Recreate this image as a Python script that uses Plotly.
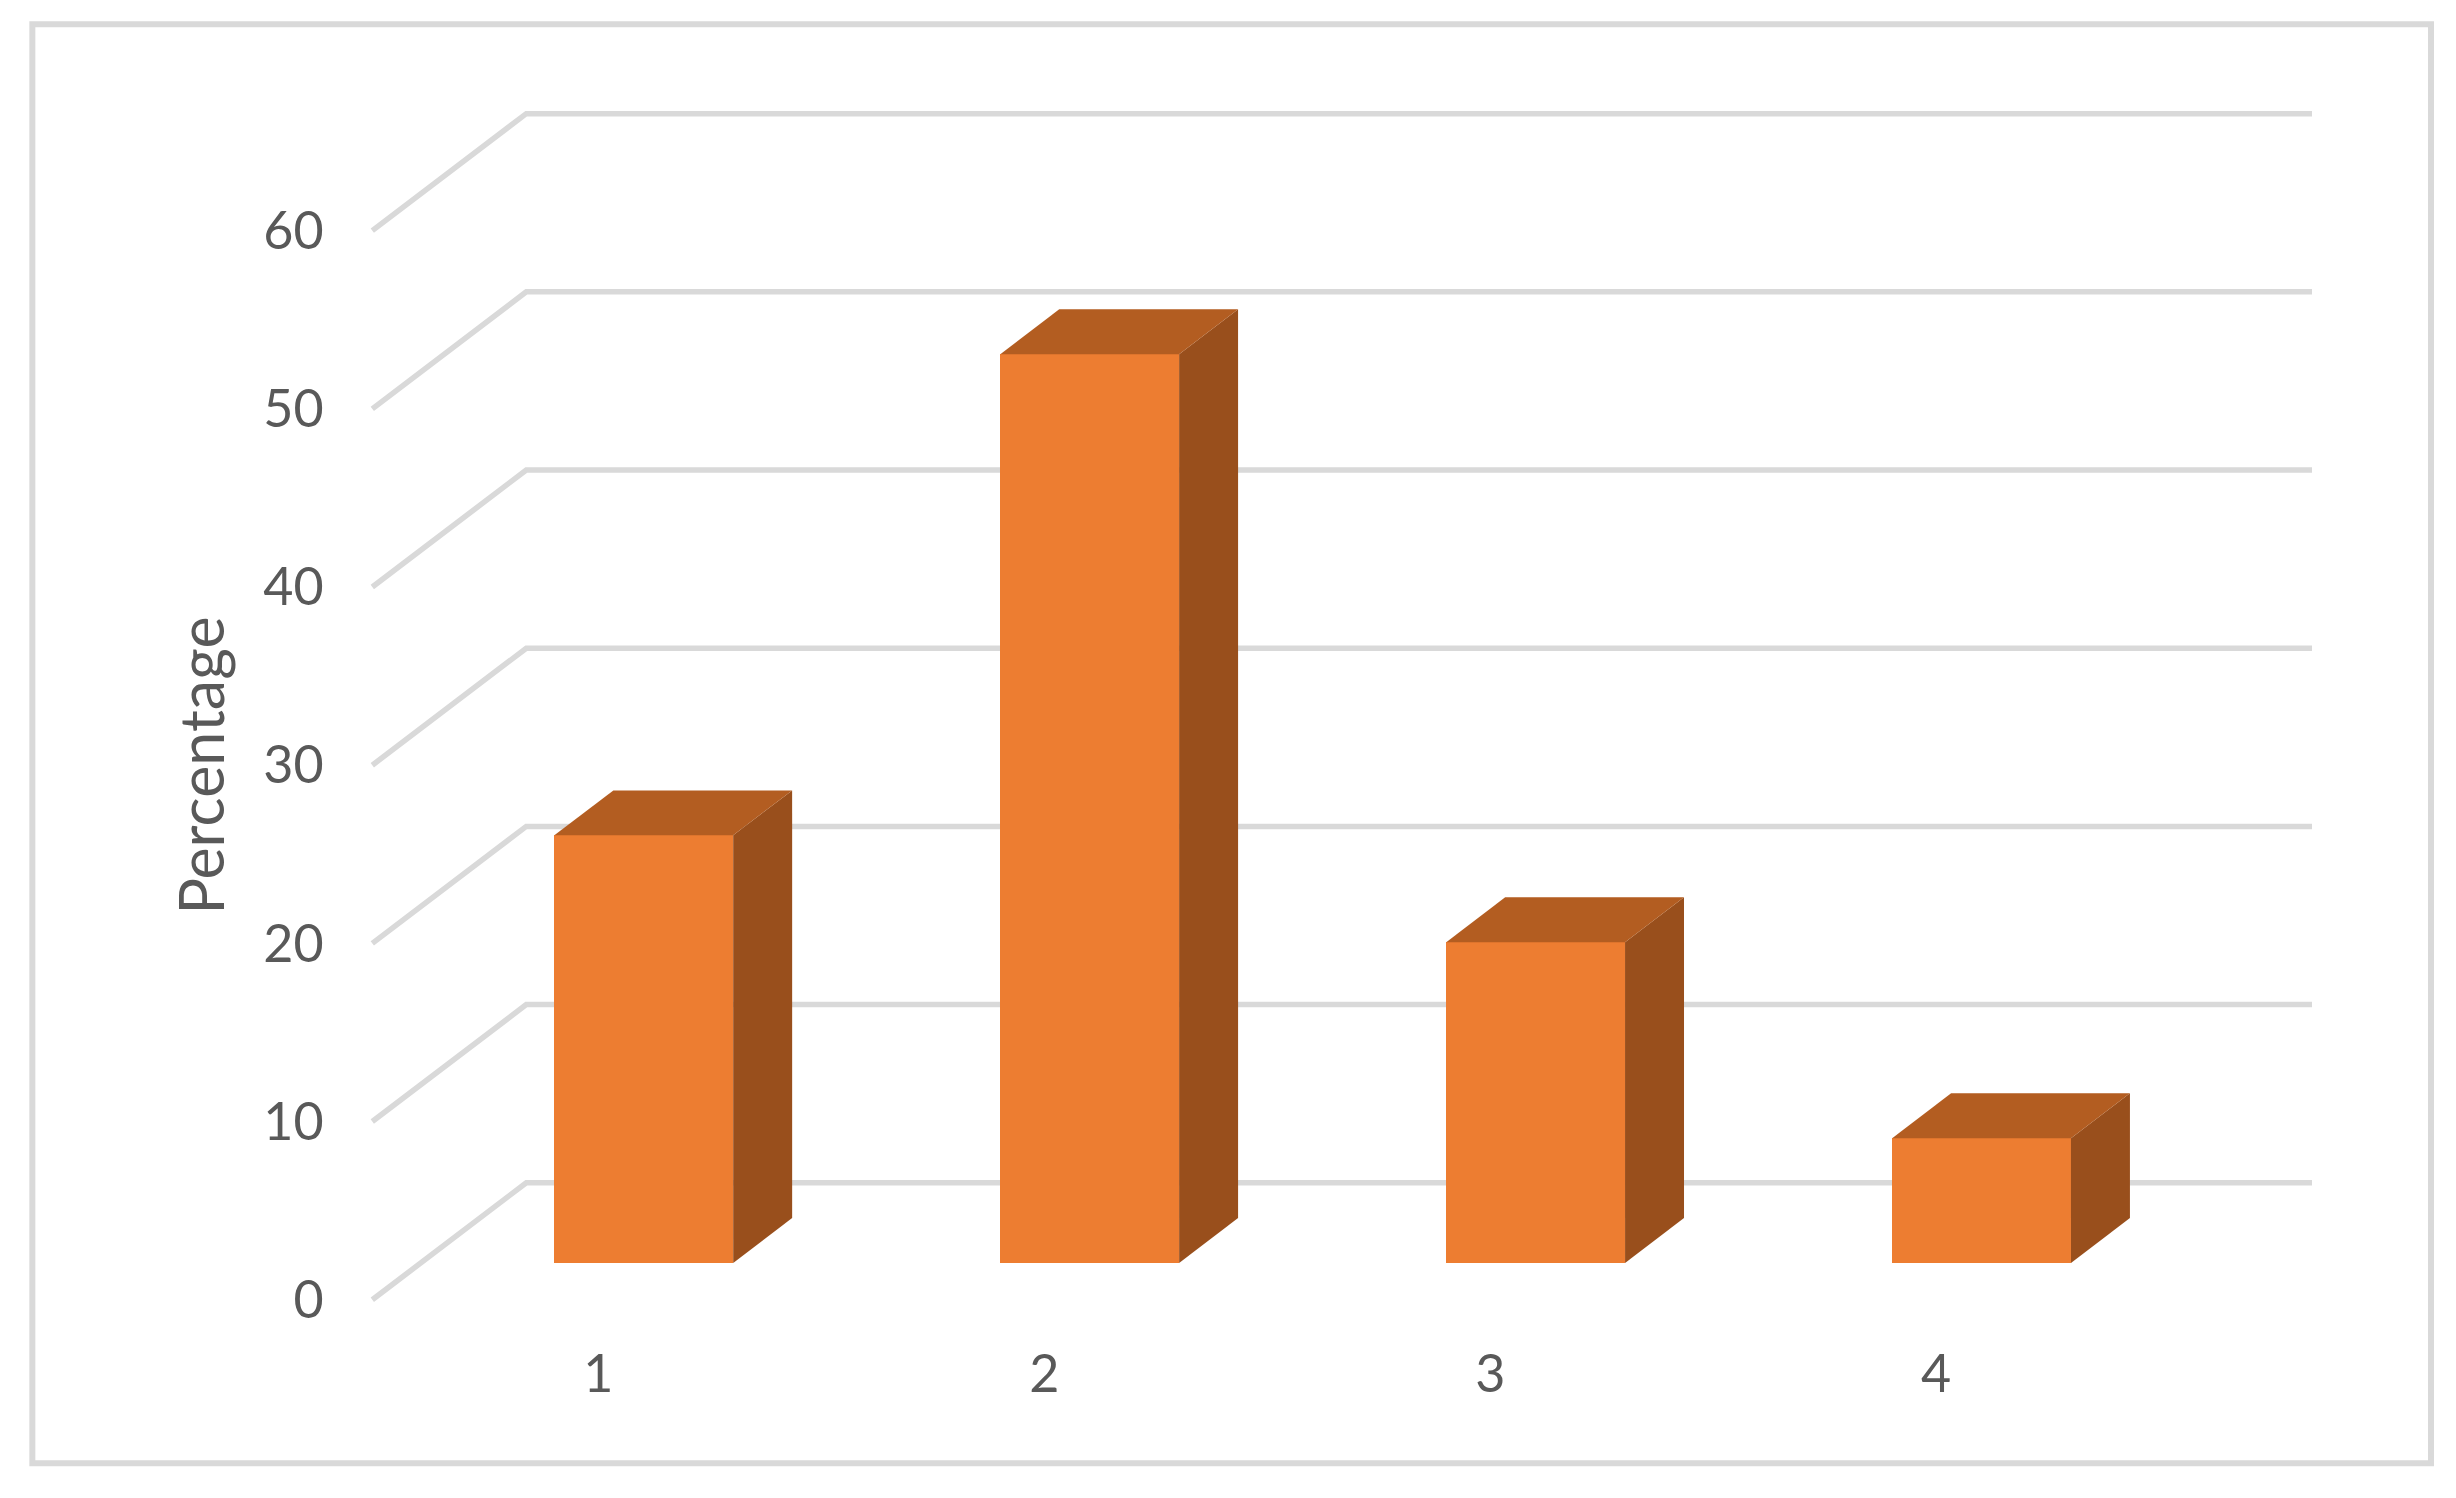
import plotly.graph_objects as go

# Data
categories = [1, 2, 3, 4]
percentages = [24, 51, 18, 7]
y_ticks = [0, 10, 20, 30, 40, 50, 60]
y_title = "Percentage"

# Pixel layout of the chart (the page adds an 8px body margin)
W, H = 2456, 1498
PX_PER_CAT = 446.0
PX_PER_UNIT = 17.82
X_ZERO_PX = 364.0      # pixel of x = 0.5 (front plane)
Y_ZERO_PX = 1291.5     # pixel of y = 0 (front plane)
DEPTH_DX = 154.0 / PX_PER_CAT    # floor depth in x units
DEPTH_DY = 117.0 / PX_PER_UNIT   # floor depth in y units
BAR_FRONT = 0.315      # front face of the bars, as share of floor depth
BAR_BACK = 0.698       # back face of the bars, as share of floor depth
BAR_WIDTH = 0.401
LABEL_SHIFT = 0.007    # small rightward nudge of the category labels
XMIN, XMAX = 0.45, 0.5 + (2304.0 - X_ZERO_PX) / PX_PER_CAT
YMIN, YMAX = -0.8, 67.5

C_FRONT, C_SIDE, C_TOP = "#ED7D31", "#994F1C", "#B35D21"
C_GRID, C_TEXT = "#D9D9D9", "#595959"
FONT = "Lato"

left = X_ZERO_PX + (XMIN - 0.5) * PX_PER_CAT
right = X_ZERO_PX + (XMAX - 0.5) * PX_PER_CAT
bottom = Y_ZERO_PX - YMIN * PX_PER_UNIT
top = Y_ZERO_PX - YMAX * PX_PER_UNIT

def paper_x(px):
    return (px - left) / (right - left)

def paper_y(py):
    return (bottom - py) / (bottom - top)

fig = go.Figure()

f_dx, f_dy = BAR_FRONT * DEPTH_DX, BAR_FRONT * DEPTH_DY
b_dx, b_dy = BAR_BACK * DEPTH_DX, BAR_BACK * DEPTH_DY

# side faces and top faces derived from the values
for c, v in zip(categories, percentages):
    xl = c + f_dx - BAR_WIDTH / 2
    xr = c + f_dx + BAR_WIDTH / 2
    fig.add_trace(go.Scatter(
        x=[xr, c + b_dx + BAR_WIDTH / 2, c + b_dx + BAR_WIDTH / 2, xr, xr],
        y=[f_dy, b_dy, b_dy + v, f_dy + v, f_dy],
        mode="lines", fill="toself", fillcolor=C_SIDE, line=dict(width=0),
        showlegend=False, hoverinfo="skip"))
    fig.add_trace(go.Scatter(
        x=[xl, c + b_dx - BAR_WIDTH / 2, c + b_dx + BAR_WIDTH / 2, xr, xl],
        y=[f_dy + v, b_dy + v, b_dy + v, f_dy + v, f_dy + v],
        mode="lines", fill="toself", fillcolor=C_TOP, line=dict(width=0),
        showlegend=False, hoverinfo="skip"))

# front faces
fig.add_trace(go.Bar(
    x=[c + f_dx for c in categories],
    y=percentages,
    base=[f_dy] * len(categories),
    width=BAR_WIDTH,
    marker=dict(color=C_FRONT, line=dict(width=0)),
    showlegend=False,
    hovertemplate="%{y}<extra></extra>",
))

# walls: floor-depth segment + back-wall gridline for every tick
shapes = []
for t in y_ticks:
    shapes.append(dict(
        type="path", layer="below", xref="x", yref="y",
        path=f"M 0.5 {t} L {0.5 + DEPTH_DX} {t + DEPTH_DY} L {XMAX} {t + DEPTH_DY}",
        line=dict(color=C_GRID, width=5.5), fillcolor="rgba(0,0,0,0)"))

# outer frame
shapes.append(dict(
    type="rect", layer="below", xref="paper", yref="paper",
    x0=paper_x(24), x1=paper_x(2423), y0=paper_y(1455), y1=paper_y(16),
    line=dict(color=C_GRID, width=6), fillcolor="rgba(0,0,0,0)"))

fig.update_layout(
    width=W, height=H, autosize=False,
    margin=dict(l=left, r=W - right, t=top, b=H - bottom, pad=0),
    paper_bgcolor="white", plot_bgcolor="rgba(0,0,0,0)",
    shapes=shapes, bargap=0,
    font=dict(family=FONT, color=C_TEXT, size=52),
    xaxis=dict(
        range=[XMIN, XMAX], tickmode="array",
        tickvals=[c + LABEL_SHIFT for c in categories],
        ticktext=[str(c) for c in categories],
        showgrid=False, zeroline=False, showline=False,
        ticks="outside", ticklen=15, tickcolor="rgba(0,0,0,0)",
        tickfont=dict(family=FONT, size=52, color=C_TEXT)),
    yaxis=dict(
        range=[YMIN, YMAX], tickmode="array", tickvals=y_ticks,
        showgrid=False, zeroline=False, showline=False,
        ticks="outside", ticklen=15, tickcolor="rgba(0,0,0,0)",
        tickfont=dict(family=FONT, size=52, color=C_TEXT)),
    annotations=[dict(
        text=y_title, textangle=-90, showarrow=False,
        xref="paper", yref="paper",
        x=paper_x(192), y=paper_y(757), xanchor="center", yanchor="middle",
        font=dict(family=FONT, size=61, color=C_TEXT))],
)

fig.write_html("out.html", config=dict(displayModeBar=False))
